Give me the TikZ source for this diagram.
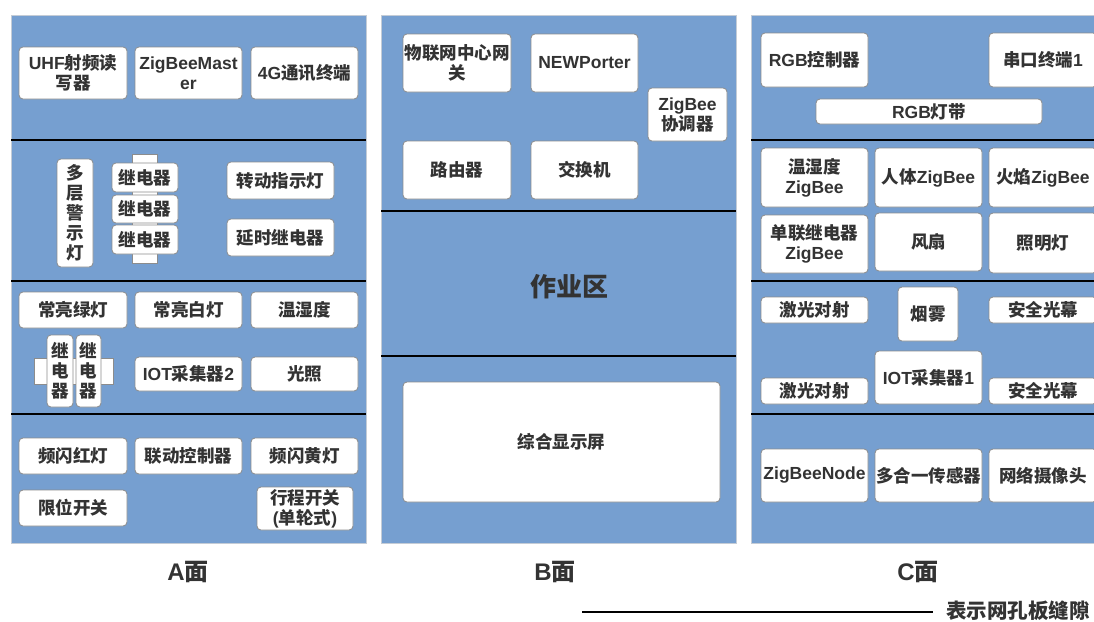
\documentclass[tikz,border=0pt]{standalone}
\usepackage{fontspec}
\setmainfont{Liberation Sans}
\newfontfamily\cjk{Noto Sans CJK SC}
\newcommand\zh[1]{{\cjk #1}}
\definecolor{panelblue}{RGB}{118,159,208}
\definecolor{panelborder}{RGB}{196,204,214}
\definecolor{txt}{RGB}{51,51,51}
\definecolor{edgegray}{RGB}{140,140,140}
\tikzset{
  panel/.style={fill=panelblue, draw=panelborder, line width=0.8pt},
  divider/.style={draw=black, line width=2pt},
  box/.style={draw=edgegray, fill=white, rounded corners=4pt, line width=0.8pt,
    inner sep=0pt, align=center, text=txt, font=\fontsize{17.5}{20}\selectfont\bfseries},
  holder/.style={draw=edgegray, fill=white, line width=0.8pt},
  zone/.style={text=txt, font=\fontsize{26}{30}\selectfont\bfseries},
  face/.style={text=txt, font=\fontsize{24}{28}\selectfont\bfseries},
  legend/.style={text=txt, font=\fontsize{20.5}{24}\selectfont\bfseries, anchor=west, inner sep=0pt},
}
% \bx[options]{name}{x1}{y1}{x2}{y2}{text}
\newcommand\bx[7][]{\node[box,minimum width={(#5-#3)*1pt},minimum height={(#6-#4)*1pt},#1] (#2) at ({(#3+#5)/2},{(#4+#6)/2}) {#7};}
\newcommand\hold[5]{\node[holder,inner sep=0pt,minimum width={(#4-#2)*1pt},minimum height={(#5-#3)*1pt}] (#1) at ({(#2+#4)/2},{(#3+#5)/2}) {};}
\begin{document}
\begin{tikzpicture}[x=1pt,y=-1pt]
\path[use as bounding box, clip] (0,0) rectangle (1094,621);
\fill[white] (0,0) rectangle (1094,621);

% ---------- Panel A ----------
\path[panel] (11,15) rectangle (366,543);
\foreach \yy in {140,281,414} \draw[divider] (11,\yy) -- (366,\yy);
\bx{a1}{19}{47}{127}{99}{UHF\zh{射频读}\\\zh{写器}}
\bx{a2}{135}{47}{242}{99}{ZigBeeMast\\er}
\bx{a3}{251}{47}{358}{99}{4G\zh{通讯终端}}
\bx{a4}{57}{159}{93}{267}{\zh{多}\\\zh{层}\\\zh{警}\\\zh{示}\\\zh{灯}}
\hold{h1}{132}{154}{157}{263}
\bx{a5}{112}{163}{178}{192}{\zh{继电器}}
\bx{a6}{112}{195}{178}{223}{\zh{继电器}}
\bx{a7}{112}{225}{178}{254}{\zh{继电器}}
\bx{a8}{227}{162}{334}{199}{\zh{转动指示灯}}
\bx{a9}{227}{219}{334}{256}{\zh{延时继电器}}
\bx{a10}{19}{292}{127}{328}{\zh{常亮绿灯}}
\bx{a11}{135}{292}{242}{328}{\zh{常亮白灯}}
\bx{a12}{251}{292}{358}{328}{\zh{温湿度}}
\hold{h2}{34}{358}{113}{384}
\bx{a13}{47}{335}{73}{407}{\zh{继}\\\zh{电}\\\zh{器}}
\bx{a14}{76}{335}{101}{407}{\zh{继}\\\zh{电}\\\zh{器}}
\bx{a15}{135}{357}{242}{391}{IOT\zh{采集器}2}
\bx{a16}{251}{357}{358}{391}{\zh{光照}}
\bx{a17}{19}{438}{127}{474}{\zh{频闪红灯}}
\bx{a18}{135}{438}{242}{474}{\zh{联动控制器}}
\bx{a19}{251}{438}{358}{474}{\zh{频闪黄灯}}
\bx{a20}{19}{490}{127}{526}{\zh{限位开关}}
\bx{a21}{257}{487}{353}{530}{\zh{行程开关}\\(\zh{单轮式})}

% ---------- Panel B ----------
\path[panel] (381,15) rectangle (736,543);
\foreach \yy in {211,356} \draw[divider] (381,\yy) -- (736,\yy);
\bx{b1}{403}{34}{511}{92}{\zh{物联网中心网}\\\zh{关}}
\bx{b2}{531}{34}{638}{92}{NEWPorter}
\bx{b3}{648}{88}{727}{141}{ZigBee\\\zh{协调器}}
\bx{b4}{403}{141}{511}{199}{\zh{路由器}}
\bx{b5}{531}{141}{638}{199}{\zh{交换机}}
\node[zone] (work) at (569,287) {\zh{作业区}};
\bx{b6}{403}{382}{720}{502}{\zh{综合显示屏}}

% ---------- Panel C ----------
\path[panel] (751,15) rectangle (1106,543);
\foreach \yy in {140,281,414} \draw[divider] (751,\yy) -- (1106,\yy);
\bx{c1}{761}{33}{868}{87}{RGB\zh{控制器}}
\bx{c2}{989}{33}{1097}{87}{\zh{串口终端}1}
\bx{c3}{816}{99}{1042}{124}{RGB\zh{灯带}}
\bx{c4}{761}{148}{868}{207}{\zh{温湿度}\\ZigBee}
\bx{c5}{875}{148}{982}{207}{\zh{人体}ZigBee}
\bx{c6}{989}{148}{1097}{207}{\zh{火焰}ZigBee}
\bx{c7}{761}{215}{868}{273}{\zh{单联继电器}\\ZigBee}
\bx{c8}{875}{213}{982}{271}{\zh{风扇}}
\bx{c9}{989}{213}{1097}{273}{\zh{照明灯}}
\bx{c10}{761}{297}{868}{323}{\zh{激光对射}}
\bx{c11}{898}{287}{958}{341}{\zh{烟雾}}
\bx{c12}{989}{297}{1097}{323}{\zh{安全光幕}}
\bx{c13}{761}{378}{868}{404}{\zh{激光对射}}
\bx{c14}{875}{351}{982}{404}{IOT\zh{采集器}1}
\bx{c15}{989}{378}{1097}{404}{\zh{安全光幕}}
\bx{c16}{761}{449}{868}{502}{ZigBeeNode}
\bx{c17}{875}{449}{982}{502}{\zh{多合一传感器}}
\bx{c18}{989}{449}{1097}{502}{\zh{网络摄像头}}

% ---------- Labels ----------
\node[face] (fa) at (188,572) {A\zh{面}};
\node[face] (fb) at (555,572) {B\zh{面}};
\node[face] (fc) at (918,572) {C\zh{面}};

% ---------- Legend ----------
\coordinate (l1) at (582,612);
\coordinate (l2) at (933,612);
\draw[line width=2pt] (l1) -- (l2);
\node[legend] (lt) at (946,611) {\zh{表示网孔板缝隙}};
\end{tikzpicture}
\end{document}
